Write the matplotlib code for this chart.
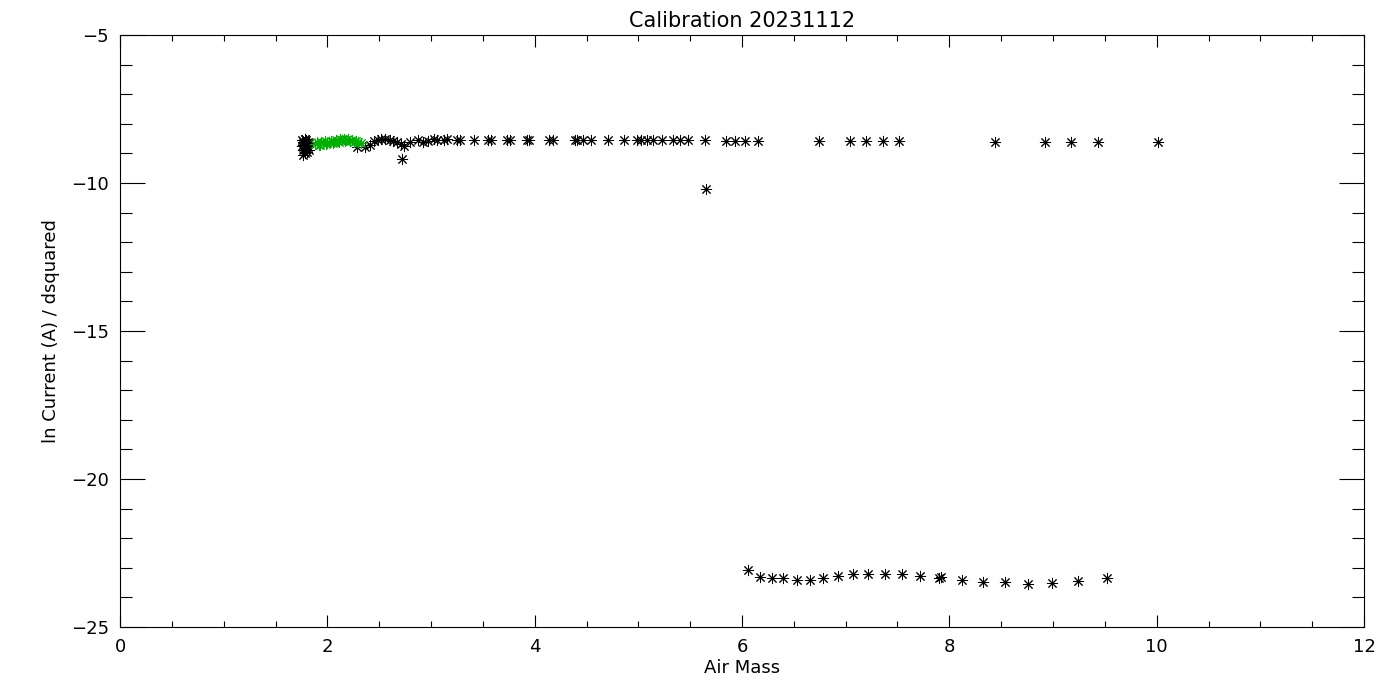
import matplotlib
matplotlib.use("Agg")
import matplotlib.pyplot as plt
from matplotlib.ticker import MultipleLocator

# Black points (air mass, ln current / d^2)
black_x = [1.76, 1.76, 1.77, 1.77, 1.77, 1.78, 1.78, 1.78, 1.79, 1.79, 1.79, 1.80, 1.80, 1.81, 1.81, 1.82, 1.82,
           1.78, 1.80, 1.77,
           2.29, 2.36, 2.41, 2.45, 2.49, 2.52, 2.56, 2.60, 2.63, 2.67, 2.71, 2.72,
           2.74, 2.80, 2.87, 2.92, 2.97, 3.03, 3.06, 3.13, 3.15, 3.25, 3.28, 3.41, 3.55, 3.58,
           3.73, 3.76, 3.93, 3.95, 4.14, 4.18, 4.39, 4.41, 4.47, 4.54, 4.71, 4.86,
           4.99, 5.03, 5.08, 5.14, 5.23, 5.33, 5.40, 5.48, 5.64, 5.65, 5.85, 5.93, 6.03, 6.15,
           6.74, 7.04, 7.20, 7.36, 7.51, 8.44, 8.92, 9.17, 9.43, 10.01,
           6.06, 6.17, 6.29, 6.40, 6.53, 6.66, 6.78, 6.93, 7.07, 7.22, 7.38, 7.54, 7.72, 7.90, 7.92,
           8.12, 8.32, 8.54, 8.76, 8.99, 9.24, 9.52]
black_y = [-8.55, -8.75, -8.60, -8.90, -8.70, -8.50, -8.80, -9.00, -8.65, -8.85, -8.55, -8.70, -8.95, -8.60, -8.80, -8.65, -8.90,
           -8.50, -8.75, -9.05,
           -8.78, -8.80, -8.70, -8.58, -8.55, -8.50, -8.52, -8.55, -8.58, -8.62, -8.68, -9.18,
           -8.75, -8.60, -8.55, -8.62, -8.58, -8.52, -8.55, -8.55, -8.52, -8.55, -8.55, -8.55, -8.55, -8.55,
           -8.55, -8.55, -8.55, -8.55, -8.55, -8.55, -8.55, -8.55, -8.55, -8.55, -8.55, -8.55,
           -8.55, -8.55, -8.55, -8.55, -8.55, -8.55, -8.55, -8.55, -8.55, -10.20, -8.58, -8.58, -8.58, -8.58,
           -8.58, -8.58, -8.58, -8.58, -8.58, -8.61, -8.61, -8.61, -8.61, -8.61,
           -23.07, -23.31, -23.34, -23.36, -23.41, -23.41, -23.36, -23.27, -23.22, -23.20, -23.22, -23.22, -23.27, -23.34, -23.31,
           -23.41, -23.48, -23.48, -23.55, -23.50, -23.43, -23.36]

# Green points
green_x = [1.88, 1.90, 1.92, 1.94, 1.96, 1.98, 2.00, 2.02, 2.04, 2.06, 2.08, 2.10, 2.12, 2.14, 2.16,
           2.18, 2.20, 2.22, 2.24, 2.26, 2.28, 2.30, 2.32, 1.93, 1.99, 2.05, 2.11, 2.17]
green_y = [-8.68, -8.62, -8.70, -8.63, -8.66, -8.58, -8.64, -8.60, -8.57, -8.62, -8.55, -8.58, -8.52, -8.56, -8.50,
           -8.55, -8.52, -8.58, -8.55, -8.60, -8.58, -8.62, -8.65, -8.72, -8.68, -8.65, -8.62, -8.58]

title = "Calibration 20231112"
xlabel = "Air Mass"
ylabel = "ln Current (A) / dsquared"

fig = plt.figure(figsize=(14, 7), dpi=100)
ax = fig.add_axes([120/1400, 73/700, 1244/1400, 592/700])

mk = (8, 2, 0)
ax.plot(black_x, black_y, linestyle="none", marker=mk, markersize=8, markeredgewidth=0.7,
        color="black")
ax.plot(green_x, green_y, linestyle="none", marker=mk, markersize=8, markeredgewidth=0.7,
        color="#00b000")

ax.set_xlim(0, 12)
ax.set_ylim(-25, -5)
ax.xaxis.set_major_locator(MultipleLocator(2))
ax.xaxis.set_minor_locator(MultipleLocator(0.5))
ax.yaxis.set_major_locator(MultipleLocator(5))
ax.yaxis.set_minor_locator(MultipleLocator(1))

ax.tick_params(which="both", direction="in", top=True, right=True, width=0.8, colors="black",
               labelsize=13)
ax.tick_params(axis="x", which="major", length=8.6, pad=8)
ax.tick_params(axis="x", which="minor", length=4.3)
ax.tick_params(axis="y", which="major", length=18, pad=8)
ax.tick_params(axis="y", which="minor", length=8.6)
for s in ax.spines.values():
    s.set_linewidth(0.8)

ax.set_title(title, fontsize=15, pad=6)
ax.set_xlabel(xlabel, fontsize=13, labelpad=2)
ax.set_ylabel(ylabel, fontsize=13, labelpad=8)

fig.savefig("out.png", dpi=100)
